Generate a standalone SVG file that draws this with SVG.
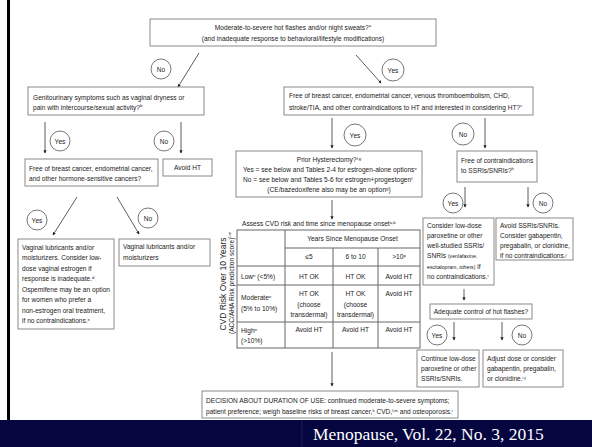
<svg xmlns="http://www.w3.org/2000/svg" width="592" height="447" viewBox="0 0 592 447">
<style>
text{font-family:"Liberation Sans",Arial,sans-serif;font-size:6.6px;fill:#222}
.c{text-anchor:middle}
.s{font-size:4.3px}
.sm{font-size:5.2px}
.box{fill:#fff;stroke:#8a8a8a;stroke-width:1}
.circ{fill:#fff;stroke:#555;stroke-width:0.8}
.ln{stroke:#333;stroke-width:0.8;fill:none;marker-end:url(#ah)}
.tb{stroke:#666;stroke-width:1;fill:none}
.rot{font-size:8.5px}
</style>
<defs>
<marker id="ah" viewBox="0 0 6 6" refX="5" refY="3" markerWidth="4" markerHeight="4" orient="auto">
<path d="M0,0 L6,3 L0,6 z" fill="#222"/>
</marker>
</defs>
<rect x="0" y="0" width="592" height="447" fill="#fff"/>
<rect x="7" y="0" width="3" height="420" fill="#000"/>
<rect x="0" y="420" width="592" height="27" fill="#05053f"/>
<line x1="302" y1="420" x2="302" y2="447" stroke="#1c1c5e" stroke-width="1"/>
<text x="313" y="440" style="font-family:'Liberation Serif','Times New Roman',serif;font-size:17.5px;fill:#fff">Menopause, Vol. 22, No. 3, 2015</text>

<g id="connectors">
<line class="ln" x1="199" y1="53" x2="178" y2="87"/>
<line class="ln" x1="356" y1="55" x2="381" y2="83"/>
<line class="ln" x1="45" y1="122" x2="45" y2="153"/>
<line class="ln" x1="181" y1="122" x2="181" y2="153"/>
<line class="ln" x1="77" y1="197" x2="53" y2="235"/>
<line class="ln" x1="117" y1="197" x2="139" y2="234"/>
<line class="ln" x1="332" y1="118" x2="332" y2="148"/>
<line class="ln" x1="485" y1="118" x2="485" y2="148"/>
<line class="ln" x1="332" y1="200" x2="332" y2="219"/>
<line class="ln" x1="465" y1="187" x2="465" y2="207"/>
<line class="ln" x1="528" y1="187" x2="528" y2="207"/>
<line class="ln" x1="464" y1="289" x2="464" y2="300"/>
<line class="ln" x1="454" y1="322" x2="454" y2="340"/>
<line class="ln" x1="502" y1="322" x2="502" y2="340"/>
<line class="ln" x1="332" y1="352" x2="332" y2="386"/>
</g>

<g id="labels">
<circle class="circ" cx="161" cy="69" r="10"/><text class="c" x="161" y="71.5">No</text>
<circle class="circ" cx="393" cy="70" r="11"/><text class="c" x="393" y="72.5">Yes</text>
<circle class="circ" cx="60" cy="141" r="10"/><text class="c" x="60" y="143.5">Yes</text>
<circle class="circ" cx="164" cy="141" r="10"/><text class="c" x="164" y="143.5">No</text>
<circle class="circ" cx="37" cy="220" r="10"/><text class="c" x="37" y="222.5">Yes</text>
<circle class="circ" cx="148" cy="218" r="10"/><text class="c" x="148" y="220.5">No</text>
<circle class="circ" cx="355" cy="135" r="11"/><text class="c" x="355" y="137.5">Yes</text>
<circle class="circ" cx="463" cy="134" r="11"/><text class="c" x="463" y="136.5">No</text>
<circle class="circ" cx="453" cy="203" r="10"/><text class="c" x="453" y="205.5">Yes</text>
<circle class="circ" cx="543" cy="203" r="10"/><text class="c" x="543" y="205.5">No</text>
<circle class="circ" cx="437" cy="335" r="10"/><text class="c" x="437" y="337.5">Yes</text>
<circle class="circ" cx="522" cy="335" r="10"/><text class="c" x="522" y="337.5">No</text>
</g>

<g id="n-top">
<rect class="box" x="150" y="19" width="286" height="27"/>
<text class="c" x="293" y="29.5">Moderate-to-severe hot flashes and/or night sweats?<tspan class="s" dy="-2.5">a</tspan></text>
<text class="c" x="293" y="40.5">(and inadequate response to behavioral/lifestyle modifications)</text>
</g>

<g id="n-genito">
<rect class="box" x="28" y="87" width="176" height="28"/>
<text x="33" y="99.5">Genitourinary symptoms such as vaginal dryness or</text>
<text x="33" y="109.5">pain with intercourse/sexual activity?<tspan class="s" dy="-2.5">b</tspan></text>
</g>

<g id="n-freeht">
<rect class="box" x="284" y="87" width="249" height="28"/>
<text x="289" y="97.5">Free of breast cancer, endometrial cancer, venous thromboembolism, CHD,</text>
<text x="289" y="109.5">stroke/TIA, and other contraindications to HT and interested in considering HT?<tspan class="s" dy="-2.5">c</tspan></text>
</g>

<g id="n-freecancer">
<rect class="box" x="25" y="159" width="133" height="27"/>
<text x="29" y="171">Free of breast cancer, endometrial cancer,</text>
<text x="29" y="181">and other hormone-sensitive cancers?</text>
</g>

<g id="n-avoidht">
<rect class="box" x="163" y="159" width="49" height="17"/>
<text class="c" x="187.5" y="170">Avoid HT</text>
</g>

<g id="n-vagyes">
<rect class="box" x="18" y="239" width="96" height="90"/>
<text x="22" y="249.5">Vaginal lubricants and/or</text>
<text x="22" y="260">moisturizers. Consider low-</text>
<text x="22" y="270.5">dose vaginal estrogen if</text>
<text x="22" y="281">response is inadequate.<tspan class="s" dy="-2.5">d</tspan></text>
<text x="22" y="291.5">Ospemifene may be an option</text>
<text x="22" y="302">for women who prefer a</text>
<text x="22" y="312.5">non-estrogen oral treatment,</text>
<text x="22" y="323">if no contraindications.<tspan class="s" dy="-2.5">e</tspan></text>
</g>

<g id="n-vagno">
<rect class="box" x="119" y="239" width="91" height="27"/>
<text x="123" y="248.5">Vaginal lubricants and/or</text>
<text x="123" y="259.5">moisturizers</text>
</g>

<g id="n-hyst">
<rect class="box" x="236" y="151" width="186" height="46"/>
<text class="c" x="329" y="162">Prior Hysterectomy?<tspan class="s" dy="-2.5">f,g</tspan></text>
<text x="243" y="172">Yes = see below and Tables 2-4 for estrogen-alone options<tspan class="s" dy="-2.5">e</tspan></text>
<text x="243" y="182">No = see below and Tables 5-6 for estrogen+progestogen<tspan class="s" dy="-2.5">f</tspan></text>
<text class="c" x="329" y="192">(CE/bazedoxifene also may be an option<tspan class="s" dy="-2.5">g</tspan><tspan dy="2.5">)</tspan></text>
</g>

<g id="n-ssri-q">
<rect class="box" x="457" y="151" width="80" height="31"/>
<text x="461" y="162.5">Free of contraindications</text>
<text x="461" y="172.5">to SSRIs/SNRIs?<tspan class="s" dy="-2.5">h</tspan></text>
</g>

<g id="n-table">
<text x="242" y="226">Assess CVD risk and time since menopause onset<tspan class="s" dy="-2.5">a,b</tspan></text>
<text class="rot c" transform="translate(226,284) rotate(-90)">CVD Risk Over 10 Years</text>
<text class="c" transform="translate(233.5,283) rotate(-90)">(ACC/AHA Risk prediction score)<tspan class="s" dy="-2.5">l,m</tspan></text>
<rect class="tb" x="237" y="230" width="183" height="118"/>
<line class="tb" x1="285" y1="230" x2="285" y2="348"/>
<line class="tb" x1="285" y1="248" x2="420" y2="248"/>
<line class="tb" x1="237" y1="266" x2="420" y2="266"/>
<line class="tb" x1="237" y1="285" x2="420" y2="285"/>
<line class="tb" x1="237" y1="322" x2="420" y2="322"/>
<line class="tb" x1="333" y1="248" x2="333" y2="348"/>
<line class="tb" x1="378" y1="248" x2="378" y2="348"/>
<text class="c" x="352.5" y="241">Years Since Menopause Onset</text>
<text class="c" x="309" y="259">≤5</text>
<text class="c" x="355.5" y="259">6 to 10</text>
<text class="c" x="399" y="259">&gt;10<tspan class="s" dy="-2.5">p</tspan></text>
<text x="241" y="279">Low<tspan class="s" dy="-2.5">n</tspan><tspan dy="2.5"> (&lt;5%)</tspan></text>
<text class="c" x="309" y="279">HT OK</text>
<text class="c" x="355.5" y="279">HT OK</text>
<text class="c" x="399" y="279">Avoid HT</text>
<text x="241" y="300">Moderate<tspan class="s" dy="-2.5">o</tspan></text>
<text x="241" y="310.5">(5% to 10%)</text>
<text class="c" x="309" y="296">HT OK</text>
<text class="c" x="309" y="306.5">(choose</text>
<text class="c" x="309" y="317">transdermal)</text>
<text class="c" x="355.5" y="296">HT OK</text>
<text class="c" x="355.5" y="306.5">(choose</text>
<text class="c" x="355.5" y="317">transdermal)</text>
<text class="c" x="399" y="296">Avoid HT</text>
<text x="241" y="333">High<tspan class="s" dy="-2.5">o</tspan></text>
<text x="241" y="343">(&gt;10%)</text>
<text class="c" x="309" y="332">Avoid HT</text>
<text class="c" x="355.5" y="332">Avoid HT</text>
<text class="c" x="399" y="332">Avoid HT</text>
</g>

<g id="n-ssri-yes">
<rect class="box" x="423" y="218" width="71" height="67"/>
<text x="427" y="227.5">Consider low-dose</text>
<text x="427" y="237.5">paroxetine or other</text>
<text x="427" y="247.5">well-studied SSRIs/</text>
<text x="427" y="258">SNRIs <tspan class="sm">(venlafaxine,</tspan></text>
<text x="427" y="268.5"><tspan class="sm">escitalopram, others)</tspan> if</text>
<text x="427" y="279">no contraindications.<tspan class="s" dy="-2.5">i</tspan></text>
</g>

<g id="n-ssri-no">
<rect class="box" x="496" y="218" width="77" height="42"/>
<text x="500" y="227.5">Avoid SSRIs/SNRIs.</text>
<text x="500" y="237.5">Consider gabapentin,</text>
<text x="500" y="247.5">pregabalin, or clonidine,</text>
<text x="500" y="258">if no contraindications.<tspan class="s" dy="-2.5">j</tspan></text>
</g>

<g id="n-adequate">
<rect class="box" x="430" y="304" width="102" height="15"/>
<text class="c" x="481" y="314">Adequate control of hot flashes?</text>
</g>

<g id="n-continue">
<rect class="box" x="417" y="350" width="62" height="37"/>
<text x="421" y="361">Continue low-dose</text>
<text x="421" y="371">paroxetine or other</text>
<text x="421" y="381">SSRIs/SNRIs.</text>
</g>

<g id="n-adjust">
<rect class="box" x="483" y="350" width="80" height="37"/>
<text x="487" y="361">Adjust dose or consider</text>
<text x="487" y="371">gabapentin, pregabalin,</text>
<text x="487" y="381">or clonidine.<tspan class="s" dy="-2.5">i,j</tspan></text>
</g>

<g id="n-decision">
<rect class="box" x="202" y="391" width="256" height="27"/>
<text x="206" y="403">DECISION ABOUT DURATION OF USE:  continued moderate-to-severe symptoms;</text>
<text x="206" y="414">patient preference; weigh baseline risks of breast cancer,<tspan class="s" dy="-2.5">k</tspan><tspan dy="2.5"> CVD,</tspan><tspan class="s" dy="-2.5">l,m</tspan><tspan dy="2.5"> and osteoporosis.</tspan><tspan class="s" dy="-2.5">i</tspan></text>
</g>
</svg>
